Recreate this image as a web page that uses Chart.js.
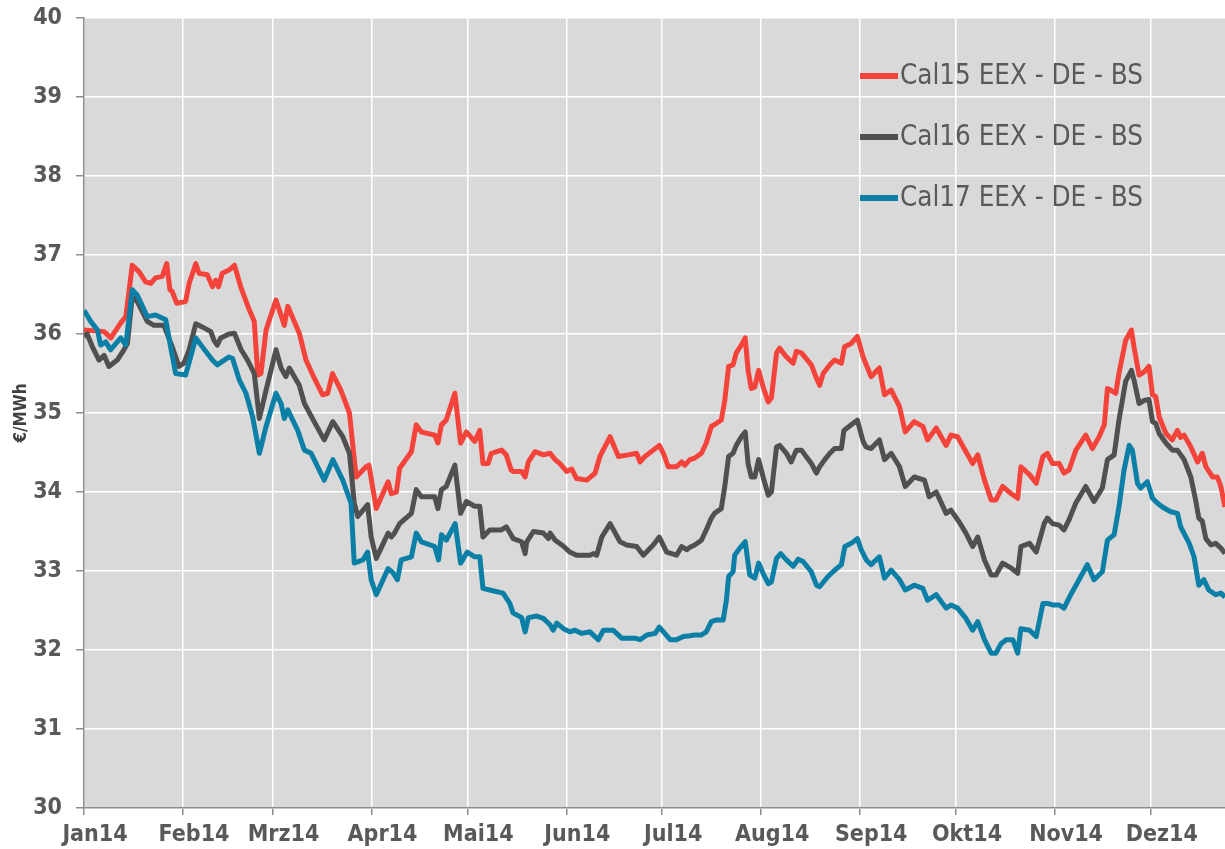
<!DOCTYPE html>
<html lang="de">
<head>
<meta charset="UTF-8">
<title>Cal15 / Cal16 / Cal17 EEX - DE - BS</title>
<script src="https://cdn.jsdelivr.net/npm/chart.js@4.4.1/dist/chart.umd.min.js"></script>
<style>
  html, body { margin: 0; padding: 0; background: #ffffff; }
  .wrap { width: 1225px; height: 849px; position: relative; }
</style>
</head>
<body>
<div class="wrap"><canvas id="chart"></canvas></div>
<script>
// Monatsanfänge (Tag im Jahr 2014) und Beschriftungen
const monthStarts = [0, 31, 59, 90, 120, 151, 181, 212, 243, 273, 304, 334];
const monthLabels = ['Jan14', 'Feb14', 'Mrz14', 'Apr14', 'Mai14', 'Jun14', 'Jul14', 'Aug14', 'Sep14', 'Okt14', 'Nov14', 'Dez14'];
const yTicks = [30, 31, 32, 33, 34, 35, 36, 37, 38, 39, 40];

// Cal15 EEX - DE - BS
const cal15Days = [0, 6.3, 8.4, 11.5, 13.1, 15.1, 17.2, 19.3, 20.9, 22.4, 24.5, 25.9, 26.9, 27.6, 29.0, 31.8, 32.9, 35.0, 36.0, 38.6, 40.2, 41.2, 42.1, 43.3, 45.4, 47.1, 49.2, 51.8, 53.3, 54.4, 55.4, 57.0, 60.1, 62.7, 63.8, 67.4, 69.5, 72.1, 74.7, 76.3, 77.8, 80.4, 83.1, 85.2, 88.3, 89.2, 91.5, 95.2, 96.2, 97.8, 98.8, 102.5, 104.0, 105.6, 109.8, 110.8, 111.9, 113.4, 116.1, 117.9, 119.7, 122.3, 123.9, 124.9, 126.5, 127.5, 130.7, 132.2, 133.7, 134.4, 137.0, 138.1, 139.1, 141.2, 143.8, 145.9, 147.5, 149.0, 151.1, 152.7, 154.2, 157.4, 160.0, 161.5, 164.7, 167.3, 170.4, 173.0, 174.1, 175.6, 178.2, 180.1, 181.4, 182.9, 185.5, 187.1, 188.1, 189.7, 191.2, 193.3, 194.8, 196.4, 198.0, 199.5, 200.6, 201.8, 203.2, 204.2, 205.8, 207.0, 207.9, 208.9, 210.0, 211.2, 212.6, 214.2, 215.2, 216.8, 217.8, 219.9, 222.0, 223.0, 224.6, 227.7, 229.3, 230.3, 231.4, 233.5, 235.0, 237.1, 238.1, 240.2, 242.1, 243.9, 244.8, 246.4, 249.0, 250.6, 252.7, 255.3, 257.1, 259.9, 262.6, 264.1, 266.8, 269.9, 271.4, 273.5, 276.1, 278.2, 279.8, 281.9, 284.0, 285.5, 287.6, 290.2, 292.3, 293.3, 296.0, 298.1, 300.2, 301.6, 303.2, 305.3, 306.8, 308.4, 310.5, 313.6, 315.7, 317.8, 319.4, 320.4, 321.4, 323.0, 324.0, 326.1, 327.9, 328.7, 330.3, 331.9, 333.4, 334.5, 335.5, 336.6, 338.7, 340.7, 342.3, 343.3, 344.4, 346.5, 348.6, 350.1, 351.2, 353.3, 354.8, 355.9, 357.2];
const cal15Values = [36.05, 36.03, 35.95, 36.14, 36.22, 36.87, 36.79, 36.66, 36.64, 36.71, 36.73, 36.89, 36.56, 36.54, 36.39, 36.41, 36.64, 36.89, 36.77, 36.75, 36.60, 36.68, 36.60, 36.77, 36.81, 36.87, 36.58, 36.30, 36.16, 35.48, 35.50, 36.05, 36.43, 36.11, 36.35, 36.01, 35.67, 35.44, 35.23, 35.25, 35.50, 35.29, 35.00, 34.19, 34.32, 34.34, 33.79, 34.13, 33.98, 34.00, 34.30, 34.51, 34.85, 34.76, 34.72, 34.62, 34.85, 34.91, 35.25, 34.62, 34.76, 34.64, 34.78, 34.36, 34.36, 34.49, 34.53, 34.47, 34.28, 34.26, 34.26, 34.19, 34.38, 34.51, 34.47, 34.49, 34.41, 34.36, 34.26, 34.29, 34.17, 34.15, 34.24, 34.45, 34.70, 34.45, 34.47, 34.49, 34.38, 34.45, 34.53, 34.59, 34.49, 34.32, 34.32, 34.38, 34.34, 34.41, 34.43, 34.49, 34.62, 34.83, 34.87, 34.91, 35.16, 35.59, 35.61, 35.76, 35.86, 35.95, 35.54, 35.31, 35.33, 35.54, 35.33, 35.14, 35.19, 35.76, 35.82, 35.71, 35.63, 35.78, 35.76, 35.61, 35.44, 35.35, 35.50, 35.61, 35.67, 35.63, 35.84, 35.88, 35.97, 35.71, 35.62, 35.46, 35.57, 35.23, 35.29, 35.08, 34.76, 34.89, 34.83, 34.66, 34.81, 34.59, 34.72, 34.70, 34.51, 34.36, 34.47, 34.15, 33.90, 33.90, 34.07, 33.98, 33.92, 34.32, 34.22, 34.11, 34.45, 34.49, 34.36, 34.36, 34.24, 34.28, 34.53, 34.72, 34.55, 34.70, 34.85, 35.31, 35.29, 35.25, 35.50, 35.92, 36.05, 35.84, 35.48, 35.52, 35.59, 35.23, 35.21, 34.95, 34.74, 34.66, 34.78, 34.69, 34.72, 34.57, 34.38, 34.49, 34.32, 34.19, 34.19, 34.07, 33.81];

// Cal16 EEX - DE - BS
const cal16Days = [0, 1.0, 2.6, 4.7, 6.3, 7.8, 10.4, 12.5, 13.6, 15.1, 16.7, 19.8, 21.9, 25.0, 27.6, 29.7, 31.3, 32.9, 35.0, 37.0, 39.7, 40.7, 41.7, 42.8, 45.4, 47.1, 49.2, 51.2, 53.3, 54.9, 57.0, 60.1, 61.7, 63.2, 64.3, 67.4, 69.0, 72.6, 75.2, 77.9, 81.0, 83.1, 84.6, 85.7, 88.8, 89.9, 91.5, 95.2, 96.2, 97.2, 98.8, 102.5, 104.0, 105.6, 109.8, 110.8, 111.9, 113.4, 116.1, 117.9, 119.7, 122.3, 123.9, 124.9, 127.0, 130.7, 132.2, 133.8, 134.4, 137.0, 138.1, 138.6, 140.7, 143.8, 145.4, 145.9, 147.5, 149.6, 152.1, 154.2, 158.4, 159.4, 160.5, 162.1, 164.7, 167.8, 169.9, 173.0, 175.1, 178.2, 180.1, 182.4, 185.5, 187.1, 188.7, 189.7, 191.2, 193.3, 194.8, 196.4, 197.4, 199.5, 200.6, 201.8, 203.2, 204.2, 205.8, 207.0, 207.9, 208.9, 210.0, 211.2, 212.6, 214.2, 215.2, 216.8, 217.8, 219.9, 221.4, 223.0, 224.6, 227.7, 229.3, 230.3, 231.9, 233.5, 235.0, 237.1, 237.9, 240.2, 242.1, 243.9, 244.8, 246.4, 249.0, 250.6, 252.7, 255.3, 257.1, 259.9, 263.1, 264.6, 266.8, 269.9, 271.4, 274.0, 276.1, 278.2, 279.8, 281.9, 284.0, 285.5, 287.6, 290.2, 292.3, 293.3, 296.0, 298.1, 300.6, 301.6, 303.2, 305.3, 306.8, 308.4, 310.5, 313.6, 316.2, 318.8, 320.4, 322.5, 324.0, 326.1, 327.9, 328.7, 330.3, 331.9, 333.4, 334.5, 335.5, 336.6, 338.7, 340.7, 342.3, 344.4, 346.5, 348.0, 349.0, 350.1, 351.2, 352.8, 354.3, 355.9, 357.2];
const cal16Values = [35.97, 36.00, 35.84, 35.67, 35.73, 35.59, 35.67, 35.80, 35.88, 36.47, 36.41, 36.16, 36.11, 36.11, 35.84, 35.59, 35.63, 35.80, 36.13, 36.09, 36.03, 35.92, 35.86, 35.95, 36.00, 36.01, 35.80, 35.67, 35.50, 34.93, 35.29, 35.80, 35.57, 35.46, 35.57, 35.35, 35.12, 34.85, 34.66, 34.89, 34.70, 34.49, 33.86, 33.69, 33.84, 33.43, 33.16, 33.48, 33.43, 33.48, 33.60, 33.73, 34.03, 33.94, 33.94, 33.79, 34.03, 34.07, 34.34, 33.73, 33.88, 33.82, 33.82, 33.43, 33.52, 33.52, 33.56, 33.45, 33.41, 33.37, 33.22, 33.37, 33.50, 33.48, 33.41, 33.48, 33.39, 33.33, 33.24, 33.20, 33.20, 33.22, 33.20, 33.43, 33.60, 33.37, 33.33, 33.31, 33.20, 33.33, 33.43, 33.24, 33.20, 33.31, 33.27, 33.30, 33.33, 33.39, 33.52, 33.67, 33.73, 33.79, 34.07, 34.45, 34.49, 34.59, 34.70, 34.76, 34.36, 34.19, 34.19, 34.41, 34.19, 33.96, 34.00, 34.57, 34.59, 34.49, 34.38, 34.53, 34.53, 34.36, 34.24, 34.32, 34.41, 34.49, 34.55, 34.55, 34.78, 34.85, 34.91, 34.64, 34.57, 34.55, 34.66, 34.41, 34.49, 34.32, 34.07, 34.19, 34.15, 33.94, 34.00, 33.73, 33.77, 33.62, 33.48, 33.31, 33.43, 33.14, 32.95, 32.95, 33.10, 33.04, 32.97, 33.31, 33.35, 33.24, 33.60, 33.67, 33.60, 33.58, 33.52, 33.65, 33.86, 34.07, 33.88, 34.05, 34.41, 34.47, 34.91, 35.40, 35.54, 35.42, 35.12, 35.16, 35.17, 34.89, 34.87, 34.74, 34.62, 34.53, 34.53, 34.41, 34.19, 33.90, 33.67, 33.63, 33.41, 33.33, 33.35, 33.29, 33.22];

// Cal17 EEX - DE - BS
const cal17Days = [0, 2.1, 4.2, 5.2, 6.8, 8.3, 11.5, 13.1, 15.1, 16.7, 19.8, 22.4, 25.6, 27.1, 28.7, 31.8, 33.4, 35.0, 37.0, 40.2, 41.7, 45.4, 46.5, 48.6, 50.7, 52.8, 54.9, 57.0, 60.1, 61.7, 62.7, 63.8, 66.9, 69.0, 71.1, 75.2, 77.9, 81.0, 83.6, 84.6, 87.3, 88.8, 89.9, 91.5, 95.2, 96.7, 98.1, 99.3, 102.5, 104.0, 105.6, 109.8, 111.0, 111.9, 113.4, 116.2, 117.9, 120.0, 122.3, 123.9, 124.9, 127.0, 131.2, 133.3, 134.3, 137.0, 138.1, 139.1, 141.7, 143.8, 145.9, 146.9, 148.0, 150.1, 152.1, 153.7, 155.8, 158.4, 161.0, 162.6, 165.7, 168.3, 172.5, 174.1, 176.2, 178.8, 180.1, 181.4, 183.5, 185.5, 187.6, 189.7, 191.2, 193.3, 194.8, 196.4, 198.0, 200.1, 201.1, 201.8, 203.2, 203.7, 205.3, 207.0, 208.4, 210.0, 211.2, 212.6, 214.2, 215.2, 216.8, 218.1, 219.9, 222.0, 223.6, 225.1, 227.7, 229.3, 230.3, 232.9, 235.0, 237.1, 238.2, 240.2, 242.1, 243.3, 244.9, 246.4, 249.0, 250.6, 252.7, 255.3, 257.1, 259.9, 262.6, 264.1, 266.8, 269.9, 271.4, 273.5, 276.1, 278.2, 279.8, 281.9, 284.0, 285.5, 287.1, 288.7, 290.8, 292.3, 293.3, 296.0, 298.1, 300.2, 301.6, 303.2, 305.3, 306.8, 308.9, 311.5, 314.1, 316.2, 318.8, 320.4, 322.5, 324.0, 325.6, 327.2, 328.2, 329.8, 330.8, 332.9, 334.5, 336.0, 337.6, 340.2, 342.3, 343.3, 346.0, 347.5, 349.0, 350.6, 352.1, 354.3, 355.9, 357.2];
const cal17Values = [36.30, 36.16, 36.05, 35.86, 35.90, 35.80, 35.95, 35.86, 36.56, 36.49, 36.22, 36.24, 36.18, 35.84, 35.50, 35.48, 35.71, 35.95, 35.84, 35.67, 35.61, 35.71, 35.69, 35.42, 35.25, 34.95, 34.49, 34.83, 35.25, 35.12, 34.93, 35.04, 34.78, 34.53, 34.49, 34.15, 34.41, 34.15, 33.86, 33.10, 33.14, 33.24, 32.89, 32.70, 33.03, 32.98, 32.89, 33.14, 33.18, 33.48, 33.37, 33.31, 33.14, 33.46, 33.39, 33.60, 33.10, 33.24, 33.18, 33.18, 32.78, 32.76, 32.72, 32.59, 32.47, 32.41, 32.23, 32.41, 32.43, 32.40, 32.32, 32.25, 32.34, 32.27, 32.23, 32.25, 32.21, 32.23, 32.13, 32.25, 32.25, 32.15, 32.15, 32.13, 32.19, 32.21, 32.29, 32.23, 32.13, 32.13, 32.17, 32.18, 32.19, 32.19, 32.23, 32.36, 32.38, 32.38, 32.63, 32.93, 32.99, 33.20, 33.29, 33.37, 32.95, 32.91, 33.10, 32.97, 32.84, 32.86, 33.16, 33.22, 33.14, 33.06, 33.15, 33.12, 32.99, 32.82, 32.80, 32.93, 33.01, 33.08, 33.31, 33.35, 33.41, 33.27, 33.14, 33.08, 33.18, 32.91, 33.01, 32.89, 32.76, 32.82, 32.78, 32.63, 32.70, 32.53, 32.57, 32.53, 32.40, 32.25, 32.36, 32.13, 31.96, 31.96, 32.08, 32.13, 32.13, 31.96, 32.27, 32.25, 32.17, 32.59, 32.59, 32.57, 32.57, 32.53, 32.70, 32.89, 33.08, 32.89, 32.99, 33.39, 33.46, 33.81, 34.28, 34.59, 34.53, 34.11, 34.05, 34.13, 33.92, 33.86, 33.81, 33.75, 33.73, 33.56, 33.35, 33.18, 32.82, 32.89, 32.76, 32.70, 32.72, 32.67];

const seriesNames = ['Cal15 EEX - DE - BS', 'Cal16 EEX - DE - BS', 'Cal17 EEX - DE - BS'];
const seriesColors = ['#f4433a', '#505050', '#0c7fa6'];

function toPoints(days, values) {
  return days.map((d, i) => ({ x: d, y: values[i] }));
}

const FONT = '"DejaVu Sans Condensed", "DejaVu Sans", sans-serif';
const TEXT = '#595959';

// grauer Hintergrund der Zeichenfläche
const plotBg = {
  id: 'plotBg',
  beforeDraw(chart) {
    const a = chart.chartArea, ctx = chart.ctx;
    ctx.save();
    ctx.fillStyle = '#d9d9d9';
    ctx.fillRect(a.left, a.top, a.right - a.left, a.bottom - a.top);
    ctx.restore();
  }
};

// Legende innerhalb der Zeichenfläche
const innerLegend = {
  id: 'innerLegend',
  afterDatasetsDraw(chart) {
    const ctx = chart.ctx;
    ctx.save();
    ctx.font = '27.5px ' + FONT;
    ctx.textBaseline = 'middle';
    seriesNames.forEach((name, i) => {
      const y = 76 + i * 61;
      ctx.strokeStyle = seriesColors[i];
      ctx.lineWidth = 6;
      ctx.lineCap = 'butt';
      ctx.beginPath();
      ctx.moveTo(860, y);
      ctx.lineTo(898, y);
      ctx.stroke();
      ctx.fillStyle = TEXT;
      ctx.fillText(name, 900, y + 1);
    });
    ctx.restore();
  }
};

const datasets = [
  { label: seriesNames[0], data: toPoints(cal15Days, cal15Values), borderColor: seriesColors[0], order: 3 },
  { label: seriesNames[1], data: toPoints(cal16Days, cal16Values), borderColor: seriesColors[1], order: 2 },
  { label: seriesNames[2], data: toPoints(cal17Days, cal17Values), borderColor: seriesColors[2], order: 1 }
].map(ds => Object.assign(ds, { borderWidth: 5, pointRadius: 0, tension: 0, fill: false, borderJoinStyle: 'round' }));

new Chart(document.getElementById('chart'), {
  type: 'line',
  data: { datasets: datasets },
  options: {
    responsive: true,
    maintainAspectRatio: false,
    animation: false,
    layout: { padding: { top: 18, right: 0, bottom: 0, left: 0 } },
    plugins: { legend: { display: false }, tooltip: { enabled: false } },
    scales: {
      x: {
        type: 'linear',
        min: 0,
        max: 357.2,
        afterBuildTicks: s => { s.ticks = monthStarts.map(v => ({ value: v })); },
        afterFit: s => { s.height = 41; s.paddingLeft = 0; s.paddingRight = 0; },
        ticks: {
          autoSkip: false,
          maxRotation: 0,
          padding: 6,
          labelOffset: 11,
          color: TEXT,
          font: { family: FONT, size: 23, weight: 'bold' },
          callback: (v, i) => monthLabels[i]
        },
        grid: { color: '#ffffff', lineWidth: 1.5, tickColor: '#8c8c8c', tickLength: 7 },
        border: { color: '#8c8c8c', width: 1.5 }
      },
      y: {
        min: 30,
        max: 40,
        afterBuildTicks: s => { s.ticks = yTicks.map(v => ({ value: v })); },
        afterFit: s => { s.width = 84; s.paddingTop = 0; s.paddingBottom = 0; },
        ticks: {
          padding: 14,
          color: TEXT,
          font: { family: FONT, size: 23, weight: 'bold' }
        },
        grid: { color: '#ffffff', lineWidth: 1.5, tickColor: '#8c8c8c', tickLength: 8 },
        border: { color: '#8c8c8c', width: 1.5 },
        title: {
          display: true,
          text: '€/MWh',
          color: '#404040',
          padding: { top: 11, bottom: 0 },
          font: { family: FONT, size: 17, weight: 'bold' }
        }
      }
    }
  },
  plugins: [plotBg, innerLegend]
});
</script>
</body>
</html>
